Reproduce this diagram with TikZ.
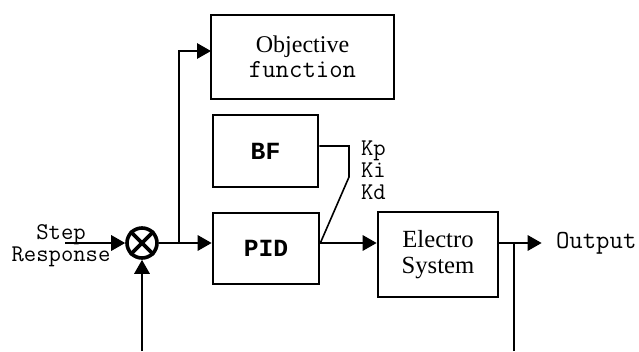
\documentclass[tikz,border=0pt]{standalone}
\usepackage{fontspec}
\setmainfont{Liberation Serif}
\newfontfamily\boldmono{Liberation Mono}
\usepackage{tikz}
\usetikzlibrary{arrows.meta}

\begin{document}
\begin{tikzpicture}[x=0.75pt, y=-0.75pt, >={Triangle[length=10.5pt, width=11.5pt]}, line width=1.6pt]
	\tikzstyle{block}=[draw=black, line width=2pt, inner sep=0pt, align=center, font=\fontsize{18}{18.75}\selectfont]
	\tikzstyle{mono}=[inner sep=0pt, align=center, font=\ttfamily\fontsize{18}{16.5}\selectfont]
	\tikzstyle{bold}=[font=\boldmono\bfseries\fontsize{18.5}{20}\selectfont]
	
	\useasboundingbox (0,0) rectangle (639,351);
	
	\node[block, minimum width=137.25pt, minimum height=63pt] (obj) at (302.5,57) {Objective\\{\ttfamily\fontsize{19.5}{18.75}\selectfont function}};
	\node[block, bold, minimum width=78.75pt, minimum height=54pt] (bf) at (265.5,151) {BF};
	\node[block, bold, minimum width=79.5pt, minimum height=53.25pt] (pid) at (266,248.5) {PID};
	\node[block, minimum width=90pt, minimum height=63.75pt, font=\fontsize{18.5}{19}\selectfont] (sys) at (438,254.5) {Electro\\System};
	
	\node[draw, circle, line width=2.7pt, minimum size=22.5pt, inner sep=0pt] (sum) at (142,243) {};
	\draw[line width=2.7pt] (sum.north west) -- (sum.south east) (sum.north east) -- (sum.south west);
	
	\node[mono] (step) at (61,246) {Step\\Response};
	\node[mono, align=left, anchor=west] (gains) at (360,170) {Kp\\Ki\\Kd};
	\node[mono, anchor=west, font=\ttfamily\fontsize{19.5}{17}\selectfont] (out) at (555,243) {Output};
	
	\coordinate (in) at (65,243);
	\coordinate (br) at (179,243);
	\coordinate (objin) at (211,51);
	\coordinate (k1) at (349,146);
	\coordinate (k2) at (349,177);
	\coordinate (fbl) at (142,351);
	\coordinate (fbr) at (514,351);
	
	\draw[->] (in) -- (sum.west);
	\draw[->] (sum) -- (pid.west |- br);
	\draw[->] (br) |- (objin);
	\draw[->] (pid.east |- br) -- (sys.west |- br);
	\draw[->, shorten >=10pt] (sys.east |- br) -- (out.west);
	\draw (fbr) -- (fbr |- br);
	\draw[->] (fbl) -- (sum.south);
	\draw[line width=1.2pt] (bf.east |- k1) -- (k1) -- (k2) -- (pid.east |- br);
\end{tikzpicture}
\end{document}
